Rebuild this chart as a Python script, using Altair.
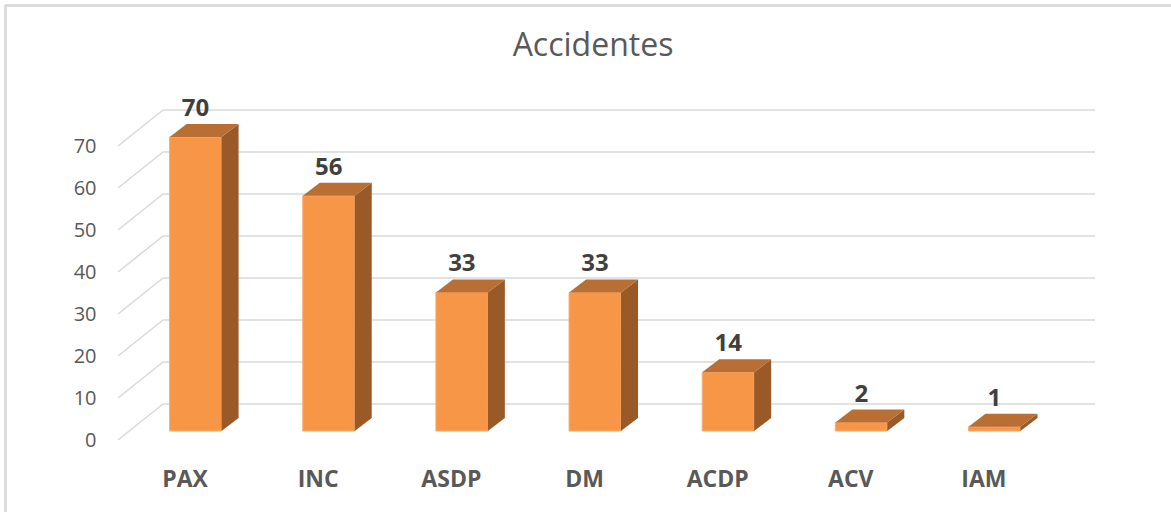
import json
import altair as alt
import pandas as pd

# ---- data ----
categories = ["PAX", "INC", "ASDP", "DM", "ACDP", "ACV", "IAM"]
values = [70, 56, 33, 33, 14, 2, 1]
y_ticks = [0, 10, 20, 30, 40, 50, 60, 70]

# ---- styling constants (3-D look) ----
HW = 0.195      # half width of bar front face (category units)
DDX = 0.128     # bar depth in x (category units)
DDY = 3.1       # bar depth in y (value units)
FACE_DX, FACE_DY = 11, -9     # bar front face offset from the front plane (px)
WALL_DX, WALL_DY = 45, -36    # back wall offset (px)

FRONT = "#F79646"
SIDE = "#9A5A28"
TOP = "#B96E34"
GRID = "#D9D9D9"
TXT = "#595959"
FONT = "Open Sans"

front = pd.DataFrame({
    "cat": categories,
    "x1": [i - HW for i in range(len(categories))],
    "x2": [i + HW for i in range(len(categories))],
    "y0": [0] * len(categories),
    "v": values,
    "xc": list(range(len(categories))),
})

side_rows, top_rows = [], []
for i, (c, v) in enumerate(zip(categories, values)):
    side_rows.append({"cat": c, "sx": i + HW, "stop": v, "sbot": 0})
    side_rows.append({"cat": c, "sx": i + HW + DDX, "stop": v + DDY, "sbot": DDY})
    top_rows.append({"cat": c, "ty": v, "txl": i - HW, "txr": i + HW})
    top_rows.append({"cat": c, "ty": v + DDY, "txl": i - HW + DDX, "txr": i + HW + DDX})
side = pd.DataFrame(side_rows)
topf = pd.DataFrame(top_rows)

grid = pd.DataFrame({"v": y_ticks, "xa": -0.5, "xb": len(categories) - 0.5})

xscale = alt.Scale(domain=[-0.5, len(categories) - 0.5], nice=False, zero=False)
yscale = alt.Scale(domain=[0, 70], nice=False)

label_expr = json.dumps(categories) + "[datum.value]"

x_axis = alt.Axis(
    values=list(range(len(categories))), labelExpr=label_expr, title=None,
    grid=False, domain=False, ticks=False, labelFont=FONT, labelFontSize=23,
    labelFontWeight="bold", labelColor=TXT, labelPadding=28,
)
y_axis = alt.Axis(
    values=y_ticks, title=None, grid=False, domain=False, ticks=False,
    labelFont=FONT, labelFontSize=20, labelColor=TXT, labelPadding=22,
)

# back wall gridlines
wall = alt.Chart(grid).mark_rule(
    color=GRID, strokeWidth=1.6, xOffset=WALL_DX, x2Offset=WALL_DX, yOffset=WALL_DY
).encode(
    x=alt.X("xa:Q", scale=xscale, axis=x_axis),
    x2="xb:Q",
    y=alt.Y("v:Q", scale=yscale, axis=y_axis),
)

# slanted side-wall lines
slant = alt.Chart(grid).mark_rule(
    color=GRID, strokeWidth=1.6, x2Offset=WALL_DX, y2Offset=WALL_DY
).encode(
    x=alt.X("xa:Q", scale=xscale),
    x2="xa:Q",
    y=alt.Y("v:Q", scale=yscale),
    y2="v:Q",
)

bars = alt.Chart(front).mark_bar(
    color=FRONT, stroke="#F9AE72", strokeWidth=1,
    xOffset=FACE_DX, x2Offset=FACE_DX, yOffset=FACE_DY, y2Offset=FACE_DY
).encode(
    x=alt.X("x1:Q", scale=xscale),
    x2="x2:Q",
    y=alt.Y("y0:Q", scale=yscale),
    y2="v:Q",
)

sides = alt.Chart(side).mark_area(
    color=SIDE, orient="vertical", xOffset=FACE_DX, yOffset=FACE_DY, y2Offset=FACE_DY
).encode(
    x=alt.X("sx:Q", scale=xscale),
    y=alt.Y("stop:Q", scale=yscale, stack=None),
    y2="sbot:Q",
    detail="cat:N",
)

tops = alt.Chart(topf).mark_area(
    color=TOP, orient="horizontal", xOffset=FACE_DX, x2Offset=FACE_DX, yOffset=FACE_DY
).encode(
    y=alt.Y("ty:Q", scale=yscale),
    x=alt.X("txl:Q", scale=xscale, stack=None),
    x2="txr:Q",
    detail="cat:N",
)

labels = alt.Chart(front).mark_text(
    font=FONT, fontSize=24, fontWeight="bold", color="#404040",
    xOffset=FACE_DX, yOffset=FACE_DY - 28, baseline="middle",
).encode(
    x=alt.X("xc:Q", scale=xscale),
    y=alt.Y("v:Q", scale=yscale),
    text="v:Q",
)

# chart border (top and left edges)
border_top = alt.Chart(grid).mark_rule(color=GRID, strokeWidth=1.5).encode(
    x=alt.value(-113), x2=alt.value(1060), y=alt.value(-140.5)
)
border_left = alt.Chart(grid).mark_rule(color=GRID, strokeWidth=1.5).encode(
    x=alt.value(-112.5), y=alt.value(-141), y2=alt.value(370)
)

chart = alt.layer(
    border_top, border_left, wall, slant, bars, sides, tops, labels
).properties(
    width=932, height=294,
    background="white",
    title=alt.TitleParams(
        "Accidentes", font=FONT, fontSize=32, fontWeight="normal", color=TXT,
        anchor="middle", dx=9, offset=-59,
    ),
    autosize=alt.AutoSizeParams(type="none"),
    padding={"left": 118, "top": 146, "right": 121, "bottom": 72},
).configure_view(strokeWidth=0, stroke="transparent")

chart.save("out.html", embed_options={"renderer": "svg", "actions": False})
